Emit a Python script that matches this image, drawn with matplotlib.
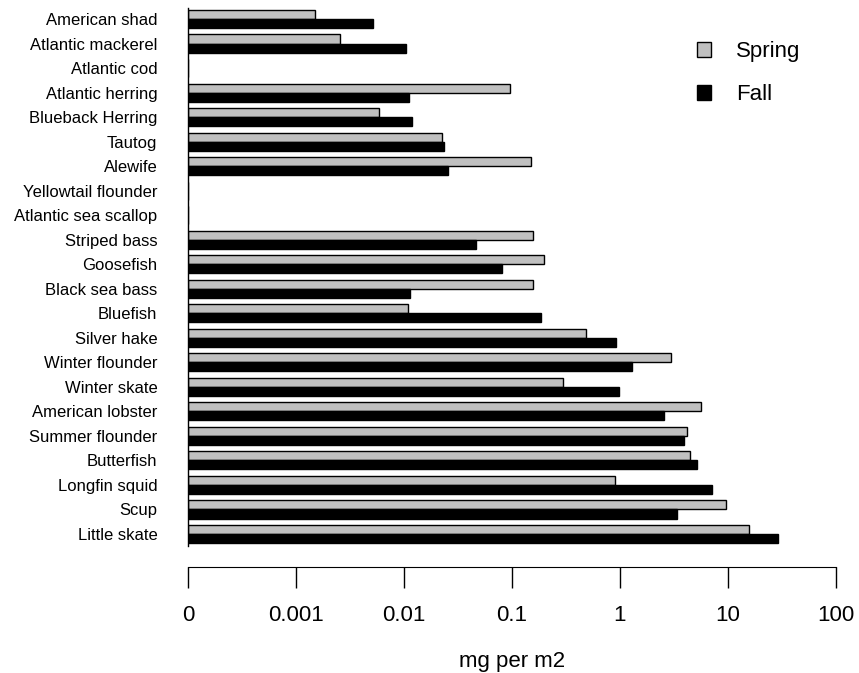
import numpy as np
import matplotlib
matplotlib.use("Agg")
import matplotlib.pyplot as plt
from matplotlib.patches import Patch

plt.rcParams['font.family'] = ['Liberation Sans', 'DejaVu Sans']

species = ["American shad", "Atlantic mackerel", "Atlantic cod", "Atlantic herring",
           "Blueback Herring", "Tautog", "Alewife", "Yellowtail flounder",
           "Atlantic sea scallop", "Striped bass", "Goosefish", "Black sea bass",
           "Bluefish", "Silver hake", "Winter flounder", "Winter skate",
           "American lobster", "Summer flounder", "Butterfish", "Longfin squid",
           "Scup", "Little skate"]

spring = [0.00149, 0.00254, 0.0, 0.0953, 0.00584, 0.0227, 0.151, 0.0, 0.0,
          0.155, 0.197, 0.156, 0.0110, 0.484, 2.99, 0.295, 5.6, 4.15, 4.41,
          0.90, 9.55, 15.7]
fall = [0.00513, 0.0104, 0.0001, 0.0111, 0.0118, 0.0236, 0.0254, 0.0, 0.0,
        0.0461, 0.0813, 0.0114, 0.186, 0.918, 1.28, 0.986, 2.54, 3.93, 5.13,
        7.18, 3.35, 29.2]

tick_vals = [1e-4, 1e-3, 1e-2, 1e-1, 1, 10, 100]
tick_labels = ["0", "0.001", "0.01", "0.1", "1", "10", "100"]

base = 1e-4
h = 0.37
y = np.arange(len(species))
sp = np.maximum(np.array(spring), base) - base
fa = np.maximum(np.array(fall), base) - base

fig = plt.figure(figsize=(8.59, 6.73), dpi=100)
ax = fig.add_axes([188 / 859, 1 - 545.5 / 673, 648 / 859, 538 / 673])
ax.set_xscale('log')

ax.barh(y - h / 2, sp, height=h, left=base, color='#c0c0c0', edgecolor='black', linewidth=1)
ax.barh(y + h / 2, fa, height=h, left=base, color='black', edgecolor='black', linewidth=1)

ax.set_xlim(1e-4, 100)
ax.set_ylim(len(species) - 1 + h + 0.1, -h - 0.1)

ax.set_yticks(y)
ax.set_yticklabels(species)
ax.tick_params(axis='y', length=0, pad=22, labelsize=12)

ax.set_xticks(tick_vals)
ax.set_xticklabels(tick_labels)
ax.xaxis.set_minor_locator(matplotlib.ticker.NullLocator())
ax.tick_params(axis='x', direction='out', length=15, width=1, pad=12, labelsize=16)
ax.set_xlabel("mg per m2", fontsize=16, labelpad=18)

for s in ['top', 'right']:
    ax.spines[s].set_visible(False)
ax.spines['bottom'].set_position(('outward', 15.5))
ax.spines['left'].set_linewidth(1)

handles = [Patch(facecolor='#c0c0c0', edgecolor='black', linewidth=1),
           Patch(facecolor='black', edgecolor='black')]
fig.legend(handles, ["Spring", "Fall"], loc='upper left',
           bbox_to_anchor=(697 / 859, 1 - 41 / 673), bbox_transform=fig.transFigure,
           frameon=False, fontsize=16, handlelength=0.65, handleheight=0.65,
           handletextpad=1.1, labelspacing=1.0, borderpad=0, borderaxespad=0)

fig.savefig("out.png", dpi=100)
